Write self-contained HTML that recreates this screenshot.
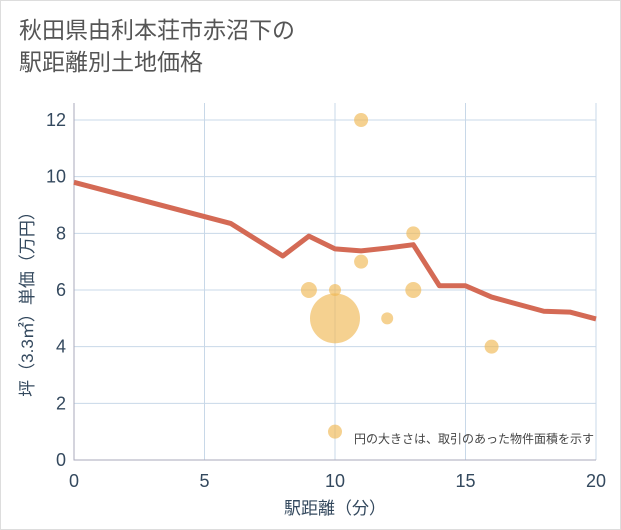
<!DOCTYPE html>
<html><head><meta charset="utf-8"><style>
body{margin:0;background:#fff;font-family:"Liberation Sans","Noto Sans CJK JP",sans-serif;}
#wrap{position:relative;width:619px;height:528px;border:1px solid #ddd;background:#fff;}
#title{position:absolute;left:18px;top:13px;font-size:23px;line-height:32px;color:#555;}
</style></head><body>
<div id="wrap">
<div id="title">秋田県由利本荘市赤沼下の<br>駅距離別土地価格</div>
<svg id="chart" width="621" height="530" style="position:absolute;left:-1px;top:-1px"></svg>
</div>
<script>
const xTicks=[0,5,10,15,20];
const yTicks=[0,2,4,6,8,10,12];
const lineX=[0,6,8,9,10,11,12,13,14,15,16,18,19,20];
const lineY=[9.8,8.35,7.2,7.9,7.45,7.38,7.48,7.6,6.15,6.15,5.75,5.25,5.22,4.98];
const bubX=[11,13,11,9,10,13,10,12,16,10];
const bubY=[12,8,7,6,6,6,5,5,4,1];
const bubR=[7,7,7,8,6,8,25,6,7,7];
const NS="http://www.w3.org/2000/svg";
const svg=document.getElementById('chart');
const L=74,R=596,T=103,B=460;
const sx=v=>L+(v-0)/20*(R-L);
const sy=v=>B-(v/12.6)*(B-T);
function mk(t,a){const e=document.createElementNS(NS,t);for(const k in a)e.setAttribute(k,a[k]);svg.appendChild(e);return e;}
xTicks.forEach(v=>{const g=mk('line',{x1:sx(v),x2:sx(v),y1:T,y2:B,stroke:'#c8d8e8','stroke-width':1});


const t=mk('text',{x:sx(v),y:487,'text-anchor':'middle','font-size':18,fill:'#34495e'});t.textContent=v;

});
yTicks.forEach(v=>{const g=mk('line',{x1:L,x2:R,y1:sy(v),y2:sy(v),stroke:'#c8d8e8','stroke-width':1});


const t=mk('text',{x:66,y:sy(v)+6,'text-anchor':'end','font-size':18,fill:'#34495e'});t.textContent=v;

});
const ax=mk('path',{d:`M${L},${T}V${B}H${R}`,fill:'none',stroke:'#aab','stroke-width':1});


bubX.forEach((x,i)=>{const c=mk('circle',{cx:sx(x),cy:sy(bubY[i]),r:bubR[i],fill:'#f0b955','fill-opacity':0.65});

});
const pl=mk('polyline',{points:lineX.map((x,i)=>sx(x)+','+sy(lineY[i])).join(' '),fill:'none',stroke:'#d46a55','stroke-width':5,'stroke-linejoin':'round'});


const xt=mk('text',{x:335,y:514,'text-anchor':'middle','font-size':17,fill:'#34495e'});xt.textContent='駅距離（分）';


const yt=mk('text',{x:0,y:0,'text-anchor':'middle','font-size':17,fill:'#34495e',transform:'translate(33,300) rotate(-90)'});yt.textContent='坪（3.3㎡）単価（万円）';


const note=mk('text',{x:594,y:443,'text-anchor':'end','font-size':12,fill:'#444'});note.textContent='円の大きさは、取引のあった物件面積を示す';


</script>
</body></html>
